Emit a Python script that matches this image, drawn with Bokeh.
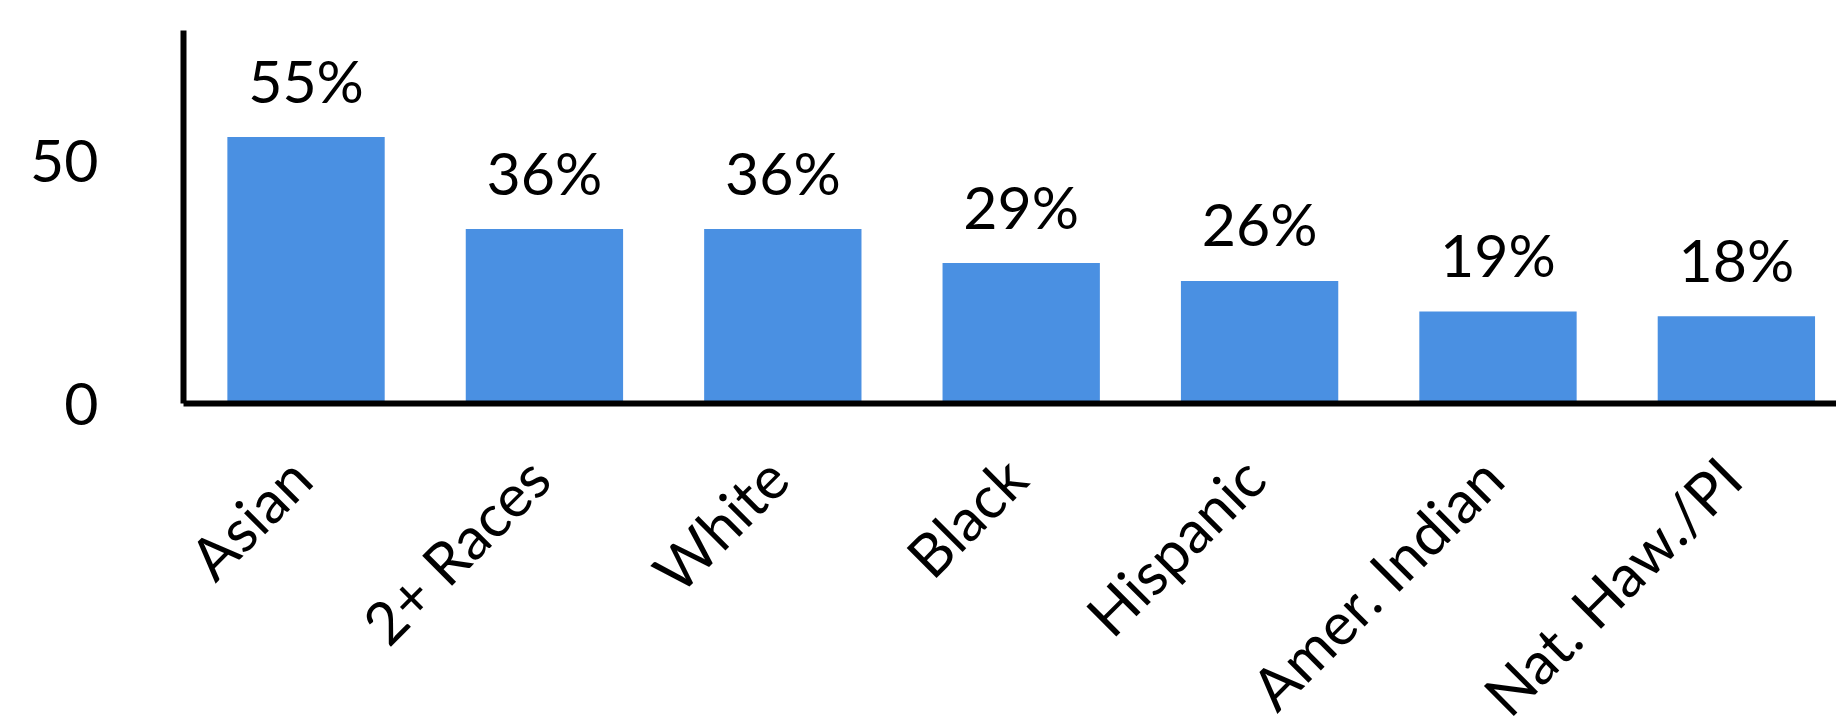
import math
from bokeh.plotting import figure
from bokeh.layouts import column
from bokeh.models import ColumnDataSource, Range1d, FixedTicker
from bokeh.core.properties import value
from bokeh.embed import file_html
from bokeh.resources import INLINE

categories = ["Asian", "2+ Races", "White", "Black", "Hispanic", "Amer. Indian", "Nat. Haw./PI"]
percent_values = [55, 36, 36, 29, 25.3, 19, 18]
percent_labels = ["55%", "36%", "36%", "29%", "26%", "19%", "18%"]
y_ticks = [0, 50]

positions = list(range(len(categories)))
source = ColumnDataSource(dict(x=positions, top=percent_values, label=percent_labels,
                               cat=categories, base=[0] * len(categories)))

FONT = "Lato"
x_range = Range1d(-0.514, 6.42)

# main chart
p = figure(
    width=1836, height=440,
    x_range=x_range, y_range=Range1d(0, 77),
    output_backend="svg", toolbar_location=None,
    min_border_left=183, min_border_right=0, min_border_top=30, min_border_bottom=37,
)
p.outline_line_color = None
p.xgrid.grid_line_color = None
p.ygrid.grid_line_color = None

p.vbar(x="x", top="top", bottom=0, width=0.66, source=source,
       fill_color="#4a90e2", line_color=None)

p.text(x="x", y="top", text="label", source=source,
       text_align="center", text_baseline="alphabetic", y_offset=-57,
       text_font=value(FONT), text_font_size="59px", text_color="black")

for ax in (p.xaxis[0], p.yaxis[0]):
    ax.axis_line_color = "black"
    ax.axis_line_width = 6
    ax.major_tick_line_color = None
    ax.minor_tick_line_color = None
    ax.major_tick_out = 0
    ax.major_tick_in = 0
    ax.minor_tick_out = 0
    ax.minor_tick_in = 0
    ax.major_label_text_font = FONT
    ax.major_label_text_font_size = "59px"
    ax.major_label_text_color = "black"
    ax.major_label_standoff = 0

p.yaxis[0].ticker = FixedTicker(ticks=y_ticks)
p.yaxis[0].major_label_standoff = 85
p.xaxis[0].ticker = FixedTicker(ticks=[])

# strip under the chart holding the rotated category labels (shares the x scale)
q = figure(
    width=1836, height=288,
    x_range=x_range, y_range=Range1d(-1, 0),
    output_backend="svg", toolbar_location=None,
    x_axis_location=None, y_axis_location=None,
    min_border_left=183, min_border_right=0, min_border_top=0, min_border_bottom=0,
)
q.outline_line_color = None
q.xgrid.grid_line_color = None
q.ygrid.grid_line_color = None
q.text(x="x", y="base", text="cat", source=source,
       angle=math.pi / 4, text_align="right", text_baseline="middle",
       x_offset=-6, y_offset=27,
       text_font=value(FONT), text_font_size="59px", text_color="black")

layout = column(p, q, spacing=0)
open("out.html", "w").write(file_html(layout, INLINE))
